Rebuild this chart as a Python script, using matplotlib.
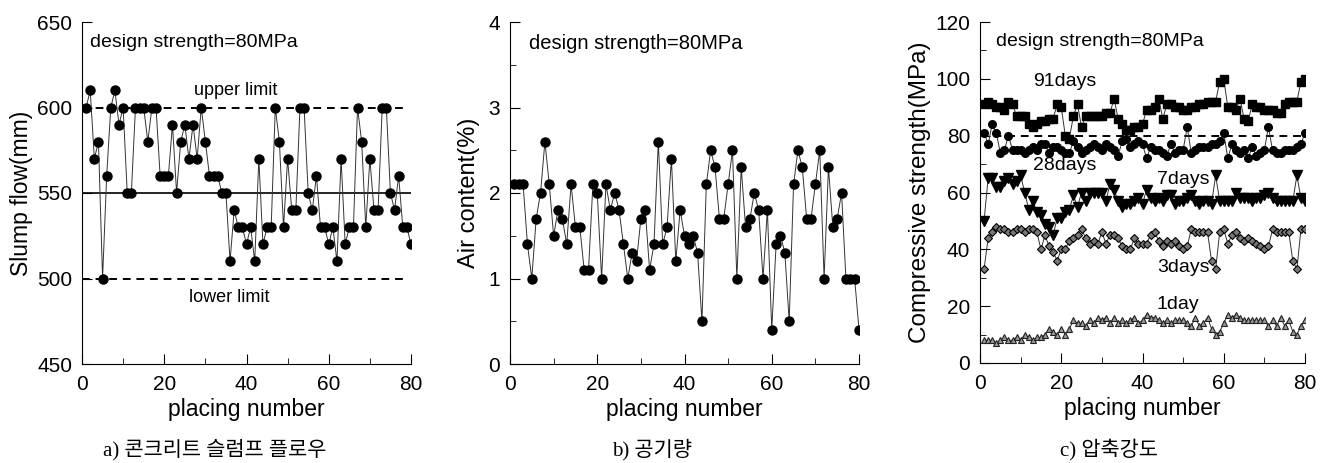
import matplotlib
matplotlib.use("Agg")
from matplotlib import pyplot as plt
from matplotlib.ticker import MultipleLocator

plt.rcParams["font.family"] = ["Liberation Sans", "DejaVu Sans"]

placing = list(range(1, 81))

slump_flow = [
    600, 610, 570, 580, 500, 560, 600, 610, 590, 600,
    550, 550, 600, 600, 600, 580, 600, 600, 560, 560,
    560, 590, 550, 580, 590, 570, 590, 570, 600, 580,
    560, 560, 560, 550, 550, 510, 540, 530, 530, 520,
    530, 510, 570, 520, 530, 530, 600, 580, 530, 570,
    540, 540, 600, 600, 550, 540, 560, 530, 530, 520,
    530, 510, 570, 520, 530, 530, 600, 580, 530, 570,
    540, 540, 600, 600, 550, 540, 560, 530, 530, 520,
]

air_content = [
    2.1, 2.1, 2.1, 1.4, 1.0, 1.7, 2.0, 2.6, 2.1, 1.5,
    1.8, 1.7, 1.4, 2.1, 1.6, 1.6, 1.1, 1.1, 2.1, 2.0,
    1.0, 2.1, 1.8, 2.0, 1.8, 1.4, 1.0, 1.3, 1.2, 1.7,
    1.8, 1.1, 1.4, 2.6, 1.4, 1.6, 2.4, 1.2, 1.8, 1.5,
    1.4, 1.5, 1.3, 0.5, 2.1, 2.5, 2.3, 1.7, 1.7, 2.1,
    2.5, 1.0, 2.3, 1.6, 1.7, 2.0, 1.8, 1.0, 1.8, 0.4,
    1.4, 1.5, 1.3, 0.5, 2.1, 2.5, 2.3, 1.7, 1.7, 2.1,
    2.5, 1.0, 2.3, 1.6, 1.7, 2.0, 1.0, 1.0, 1.0, 0.4,
]

strength_91 = [
    91, 92, 91, 90, 90, 89, 92, 91, 87, 87,
    87, 84, 83, 84, 85, 85, 86, 86, 91, 90,
    80, 79, 87, 91, 83, 87, 87, 87, 87, 87,
    88, 88, 93, 86, 84, 82, 82, 83, 83, 84,
    89, 89, 90, 93, 86, 91, 91, 90, 90, 89,
    89, 90, 90, 91, 91, 92, 92, 92, 99, 100,
    90, 90, 89, 93, 86, 85, 91, 90, 90, 89,
    89, 89, 88, 88, 91, 92, 92, 92, 99, 100,
]

strength_28 = [
    81, 77, 84, 81, 74, 75, 80, 75, 75, 75,
    74, 75, 76, 75, 77, 77, 74, 76, 76, 75,
    74, 74, 78, 76, 74, 75, 76, 77, 76, 75,
    77, 76, 75, 73, 78, 79, 76, 77, 78, 77,
    72, 76, 75, 75, 74, 73, 77, 74, 75, 75,
    83, 74, 75, 76, 76, 76, 77, 77, 78, 81,
    72, 77, 75, 74, 75, 72, 76, 73, 74, 75,
    83, 75, 74, 74, 75, 75, 75, 76, 77, 81,
]

strength_7 = [
    50, 65, 65, 62, 62, 64, 65, 63, 64, 66,
    60, 54, 57, 53, 52, 49, 48, 45, 51, 51,
    53, 54, 59, 55, 60, 57, 60, 60, 60, 60,
    57, 63, 61, 57, 55, 56, 56, 57, 58, 56,
    61, 58, 57, 58, 57, 59, 59, 56, 57, 57,
    58, 59, 57, 56, 57, 57, 56, 66, 57, 57,
    57, 57, 60, 58, 58, 58, 57, 58, 58, 59,
    60, 58, 57, 57, 57, 57, 57, 66, 58, 57,
]

strength_3 = [
    33, 44, 46, 48, 47, 47, 46, 46, 47, 47,
    46, 47, 47, 46, 40, 45, 41, 39, 36, 40,
    40, 43, 44, 45, 47, 44, 42, 43, 42, 46,
    42, 45, 45, 44, 41, 40, 40, 44, 42, 42,
    42, 45, 46, 43, 41, 43, 42, 43, 41, 40,
    41, 47, 46, 46, 46, 46, 36, 33, 46, 47,
    42, 45, 46, 44, 43, 44, 43, 42, 41, 40,
    41, 47, 46, 46, 46, 46, 36, 33, 47, 47,
]

strength_1 = [
    8, 8, 8, 7, 8, 9, 8, 8, 9, 8,
    10, 9, 8, 9, 9, 10, 12, 11, 10, 12,
    10, 12, 15, 14, 14, 13, 15, 14, 16, 15,
    16, 14, 16, 14, 15, 14, 15, 16, 14, 15,
    17, 16, 16, 15, 14, 15, 14, 15, 15, 15,
    14, 13, 16, 13, 14, 16, 12, 10, 11, 14,
    17, 16, 17, 16, 15, 15, 15, 15, 15, 15,
    13, 15, 13, 16, 13, 15, 11, 10, 13, 15,
]

W, H = 1326, 463
fig = plt.figure(figsize=(W / 100, H / 100), dpi=100)


def make_axes(left, right, top, bottom):
    ax = fig.add_axes([left / W, 1 - bottom / H, (right - left) / W, (bottom - top) / H])
    ax.spines["top"].set_visible(False)
    ax.spines["right"].set_visible(False)
    ax.tick_params(which="both", direction="in", labelsize=15)
    ax.tick_params(axis="x", pad=8)
    ax.tick_params(axis="y", pad=7)
    ax.tick_params(which="major", length=7)
    ax.tick_params(which="minor", length=4)
    ax.set_xlim(0, 80)
    ax.xaxis.set_major_locator(MultipleLocator(20))
    ax.xaxis.set_minor_locator(MultipleLocator(10))
    ax.set_xlabel("placing number", fontsize=16.5, labelpad=3)
    return ax


line_kw = dict(color="#333333", linewidth=0.7)

# a) slump flow
ax1 = make_axes(82, 411, 22, 364)
ax1.set_ylim(450, 650)
ax1.yaxis.set_major_locator(MultipleLocator(50))
ax1.axhline(600, xmax=0.99, color="black", linestyle=(0, (4, 3)), linewidth=1.4)
ax1.axhline(500, xmax=0.99, color="black", linestyle=(0, (4, 3)), linewidth=1.4)
ax1.axhline(550, color="black", linewidth=1.2)
ax1.plot(placing, slump_flow, marker="o", markersize=6.5, markerfacecolor="black",
         markeredgecolor="black", **line_kw)
ax1.set_ylabel("Slump flow(mm)", fontsize=16.5, labelpad=3)
ax1.text(2, 638, "design strength=80MPa", fontsize=14, va="center")
ax1.text(27.2, 610, "upper limit", fontsize=13, va="center")
ax1.text(26, 489, "lower limit", fontsize=13, va="center")

# b) air content
ax2 = make_axes(510, 859, 22, 364)
ax2.set_ylim(0, 4)
ax2.yaxis.set_major_locator(MultipleLocator(1))
ax2.yaxis.set_minor_locator(MultipleLocator(0.5))
ax2.plot(placing, air_content, marker="o", markersize=6.5, markerfacecolor="black",
         markeredgecolor="black", **line_kw)
ax2.set_ylabel("Air content(%)", fontsize=17, labelpad=6)
ax2.text(4.3, 3.75, "design strength=80MPa", fontsize=14.5, va="center")

# c) compressive strength
ax3 = make_axes(980, 1305, 22, 363)
ax3.set_ylim(0, 120)
ax3.yaxis.set_major_locator(MultipleLocator(20))
ax3.yaxis.set_minor_locator(MultipleLocator(10))
ax3.axhline(80, color="black", linestyle=(0, (4, 3)), linewidth=1.4)
ax3.plot(placing, strength_91, marker="s", markersize=6, markerfacecolor="black",
         markeredgecolor="black", **line_kw)
ax3.plot(placing, strength_28, marker="o", markersize=5.5, markerfacecolor="black",
         markeredgecolor="black", **line_kw)
ax3.plot(placing, strength_7, marker="v", markersize=6.5, markerfacecolor="black",
         markeredgecolor="black", **line_kw)
ax3.plot(placing, strength_3, marker="D", markersize=4.5, markerfacecolor="#777777",
         markeredgecolor="black", markeredgewidth=0.8, **line_kw)
ax3.plot(placing, strength_1, marker="^", markersize=4.5, markerfacecolor="#999999",
         markeredgecolor="#222222", markeredgewidth=0.8, **line_kw)
ax3.set_ylabel("Compressive strength(MPa)", fontsize=17.5, labelpad=3)
ax3.text(4, 113, "design strength=80MPa", fontsize=14, va="center")
ax3.text(13, 99, "91days", fontsize=14, va="center")
ax3.text(13, 69.5, "28days", fontsize=14, va="center")
ax3.text(43.5, 64.5, "7days", fontsize=14, va="center")
ax3.text(43.5, 33.5, "3days", fontsize=14, va="center")
ax3.text(43.5, 20.5, "1day", fontsize=14, va="center")

# captions
cap_font = ["Liberation Serif", "Noto Sans CJK KR", "DejaVu Sans"]
fig.text(215 / W, 1 - 450 / H, "a) 콘크리트 슬럼프 플로우", family=cap_font,
         fontsize=15, ha="center", va="center")
fig.text(652 / W, 1 - 450 / H, "b) 공기량", family=cap_font,
         fontsize=15, ha="center", va="center")
fig.text(1109 / W, 1 - 450 / H, "c) 압축강도", family=cap_font,
         fontsize=15, ha="center", va="center")

fig.savefig("out.png", dpi=100)
plt.close(fig)
